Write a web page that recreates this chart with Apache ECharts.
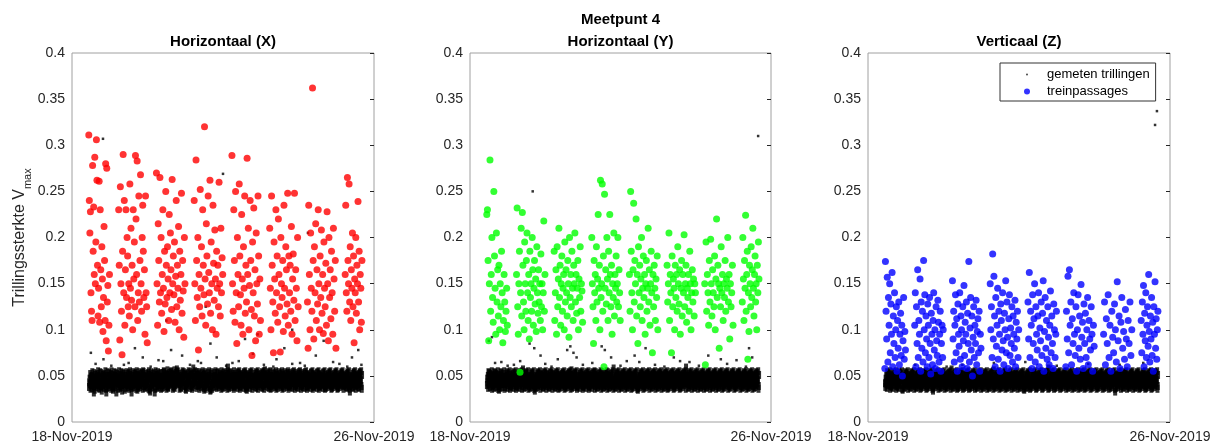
<!DOCTYPE html>
<html>
<head>
<meta charset="utf-8">
<script src="https://cdn.jsdelivr.net/npm/echarts@6/dist/echarts.min.js"></script>
<style>
  html, body { margin: 0; padding: 0; background: #fff; }
  #chart { width: 1223px; height: 446px; }
</style>
</head>
<body>
<div id="chart"></div>
<script>
// tijd in uren vanaf 18-Nov-2019 00:00
const xTickLabels = ['18-Nov-2019', '26-Nov-2019'];
const yTicks = [0, 0.05, 0.1, 0.15, 0.2, 0.25, 0.3, 0.35, 0.4];
const dayWindows = [[10.5, 24], [29.5, 48], [53.5, 72], [77.5, 96], [101.5, 120], [125.5, 144], [149.5, 168], [173.5, 184.5]];
const noiseSpan = [10.8, 184.4];

// gemeten trillingen (ruis), 1 teken per meting: a=0.031 ... z=0.056, A=0.057 ...
const noiseX =
  "hmqkvfjsotgxlnribwpeukmqhsjvonytgkfrlxipwhdmsqujgnvtkoyrfbl" +
  "qgxmtjkwhsonrvfylpiuegkqmxhtjwsbnovrlfkpyiumgqhtxjdsnwrvolke" +
  "tkgpxmqjvhsnwfroyulikbgtqmxjhpvsnkwrfoyleuitgmqxkjhvpsnwrofy" +
  "lxiqtgmjkvphsnrwofyuelcqgtxmkjvhpsnwrbofylquitgmxkjvhspnwrfo" +
  "nsgwjqhyxlkrmtpvfiuzohgnjwsqkmxyrptlvfuihozgnjwsqkAmxyrplvtf" +
  "kolhgrnqwymstxjipvfuekhlmwqosyrnjgxptiuvfkhlBmwqosyrnjgxptiu" +
  "qvjxfmsklhnpwrtyoigueqvjxfmsklhnpwrtyoigdeqvjxfmsklhnpwrtyoi" +
  "rgmwnkxhqpsjvlotfyiurgmwnkxhqpsjvlotfyCiurgmwnkxhqpsjvlotfyi" +
  "hnvqsmtkrgxjwplyofiuhnvqsmtkrgxjwplyofiuehnvqsmtkrgxjwplyofi" +
  "mslkqvrnhtxgjwpoyfiumslkqvrnhtxgjwpoyfiuzmslkqvrnhtxgjwpoyfi" +
  "ptgqnmxkvsjrhlwoyfiuptgqnmxkvsjrhlwoyfiuptgqnmxkvsjrhlwoyfiu" +
  "kwrjhnsmqgvxtplyoifukwrjhnsmqgvxtplyoifukwrjhnsmqgvxtplyoifu" +
  "vhmtsqjknrgwxlpoyfiuvhmtsqjknrgwxlpoyfiuvhmtsqjknrgwxlpoyfiu" +
  "gsnqkmhvtrjxwlpyoifugsnqkmhvtrjxwlpyoifugsnqkmhvtrjxwlpyoifu" +
  "qtjmnkshvgrxwlpoyifcqtjmnkshvgrxwlpoyifuqtjmnkshvgrxwlpoyifu";
const noiseY =
  "jqmtgxkwnshvrlpoyfiujqmtgxkwnshvrlpoyfiuejqmtgxkwnshvrlpoyf" +
  "kqhnsvmtxgjrwlpoyfiukqhnsvmtxgjrwlpoyfiukqhnsvmtxgjrwlpoyfiu" +
  "Amtqgnskhvxjwrlpoyfimtqgnskhvxjwrlpoyfidmtqgnskhvxjwrlpoyfiu" +
  "nvkqsmhgtxrjwlpyofiunvkqsmhgtxrjwlpyofiunvkqsmhgtxrjwlpyofiu" +
  "sgmqtknhvjxrwlopyfiusgmqtknhvjxrwlopyfiuzsgmqtknhvjxrwlopyfi" +
  "hqtmknsgvxjrlwpoyfiuhqtmknsgvxjrlwpoyfiuhqtmknsgvxjrlwpoyfiu" +
  "xmqkgtnshvjrwlpoyifuxmqkgtnshvjrwlpoyifuxmqkgtnshvjrwlpoyifB" +
  "tkqmgnhsvxjrwlopyfiutkqmgnhsvxjrwlopyfiutkqmgnhsvxjrwlopyfiu" +
  "mgqtknshvxjrwlpoyfiemgqtknshvxjrwlpoyfiumgqtknshvxjrwlpoyfiu" +
  "qkmtgnshxvjrwlpoyfiuqkmtgnshxvjrwlpoyfiuqkmtgnshxvjrwlpoyfiu" +
  "gtqmknshvxrjwlpoyfiugtqmknshvxrjwlpoyfiugtqmknshvxrjwlpoyfCu" +
  "nqkmtgshvxjrlwpoyfiunqkmtgshvxjrlwpoyfiunqkmtgshvxjrlwpoyfiu" +
  "kmtqgnshvjxrwlpoyfiukmtqgnshvjxrwlpoyfiukmtqgnshvjxrwlpoyfiu" +
  "tqgmkhnsvxjrwlpyofiutqgmkhnsvxjrwlpyofiutqgmkhnsvxjrwlpyofiu" +
  "mqtgknhsvxjrwlpoyfiumqtgknhsvxjrwlpoyfiumqtgknhsvxjrwlpoyfiu";
const noiseZ =
  "lhqmtkgxnsjwvrpoyfiulhqmtkgxnsjwvrpoyfiulhqmtkgxnsjwvrpoyfe" +
  "rkmqgthnxsvjwlopyfiurkmqgthnxsvjwlopyfiurkmqgthnxsvjwlopyfiu" +
  "gnqktmshxjvrwlpoyfiugnqktmshxjvrwlpoyfidgnqktmshxjvrwlpoyfiu" +
  "tmkgqnhsvxjrwlpoyfiutmkgqnhsvxjrwlpoyfiuAtmkgqnhsvxjrwlpoyfi" +
  "qgnmktshvjxrwlopyfiuqgnmktshvjxrwlopyfiuqgnmktshvjxrwlopyfiu" +
  "kqtgmnhsxvjrwlpoyfiukqtgmnhsxvjrwlpoyfiukqtgmnhsxvjrwlpoyfiz" +
  "mtgqknshvjxrlwpoyfiumtgqknshvjxrlwpoyfiumtgqknshvjxrlwpoyfiu" +
  "nkqmgtshvxjrwlpoyfiunkqmgtshvxjrwlpoyfieunkqmgtshvxjrwlpoyfi" +
  "gqmtknhsvxjrwlpoyifugqmtknhsvxjrwlpoyifugqmtknhsvxjrwlpoyifB" +
  "tgkqmnshvjxrwlpoyfiutgkqmnshvjxrwlpoyfiutgkqmnshvjxrwlpoyfiu" +
  "qmkgtnshxvjrwlpoyfiuqmkgtnshxvjrwlpoyfiuqmkgtnshxvjrwlpoyfiu" +
  "kgtqmnhsvxjrlwpoyfiukgtqmnhsvxjrlwpoyfiukgtqmnhsvxjrlwpoyfiu" +
  "mqgktnshvjxrwlpoyfiumqgktnshvjxrwlpoyfcumqgktnshvjxrwlpoyfiu" +
  "tqkmgnhsvxjrwlpyofiutqkmgnhsvxjrwlpyofiutqkmgnhsvxjrwlpyofiu" +
  "gmqtknshvxjrwlpoyfiugmqtknshvxjrwlpoyfiugmqtknshvxjrwlpoyfiu";

// losse gemeten trillingen boven de ruisband: [uur, waarde x 1000]
const extraX = [[12, 75], [20, 68], [33, 62], [40, 80], [45, 70], [58, 66], [63, 78], [70, 72], [82, 64], [88, 85], [92, 70], [106, 66], [110, 90], [115, 74], [130, 68], [135, 80], [140, 63], [155, 72], [160, 88], [166, 65], [178, 70], [182, 78], [19.7, 307], [96, 269], [140, 100], [60, 110], [85, 125], [118, 95], [150, 205],
  [15, 63], [25, 61], [36, 64], [50, 60], [55, 67], [75, 62], [80, 66], [98, 61], [102, 64], [122, 62], [128, 60], [145, 64], [148, 61], [170, 63], [175, 60], [184, 62]];
const extraY = [[40, 250], [183.8, 310], [12, 88], [14, 92], [38, 85], [41, 80], [45, 72], [62, 78], [64, 82], [66, 75], [68, 70], [84, 82], [86, 78], [90, 70], [105, 72], [108, 65], [112, 80], [130, 70], [134, 66], [152, 72], [160, 68], [178, 80], [180, 70], [20, 65], [28, 62],
  [16, 64], [24, 61], [32, 66], [48, 63], [52, 60], [56, 68], [72, 62], [78, 64], [96, 61], [100, 66], [118, 62], [124, 60], [140, 65], [146, 61], [164, 63], [170, 67], [176, 60]];
const extraZ = [[182.5, 322], [183.7, 337], [60, 62], [100, 65], [140, 63], [30, 62], [50, 60], [80, 64], [120, 61], [160, 62], [175, 64]];

// treinpassages per dag (waarde x 1000)
const trainX = [
  [311,240,205,228,140,120,110,278,185,233,160,287,150,195,306,262,170,115,145,261,108,230,165,125,190,155,98,135,212,175,110,280,88,275,130,148,77,105,160],
  [230,170,89,255,150,120,73,185,290,140,240,105,165,230,135,200,180,125,150,115,258,145,210,132,170,100,230,155,195,125,289,220,160,283,110,140,245,130,175,268,150,120,200,235,185,135,165,95,245,140,125,86],
  [270,150,105,215,175,130,265,140,200,118,160,230,145,98,185,128,250,170,135,190,155,110,225,140,205,165,122,263,150,180,138,195,108,158,240,125,170,145,212,100,185,132,160,248,118,175,142,92,200,150],
  [240,150,110,284,175,135,200,78,160,125,252,145,190,115,230,170,138,320,155,105,215,180,128,245,162,140,262,118,195,150,100,235,172,132,208,155,95,185,145,170,125,260,150,115,210,140,178,160],
  [289,150,120,230,175,108,250,140,85,200,160,125,258,180,138,105,225,155,95,190,145,245,118,170,130,286,160,210,100,148,240,175,122,72,195,140,232,115,165,88,205,150,128,245,180,95,155,110],
  [210,145,100,245,170,130,75,195,155,118,230,140,180,108,220,160,125,76,200,150,135,175,98,235,145,115,190,165,128,248,105,180,140,170,120,212,95,155,182,132,248,110,165,145,88,200,125],
  [130,80,235,160,100,205,145,120,362,175,90,190,140,215,110,165,128,230,150,100,180,135,208,118,160,96,195,145,125,172,105,228,150,88,200,135,165,112,185,140,95,210,155,120,175,80],
  [160,235,140,120,265,175,150,258,130,190,110,165,145,205,125,180,86,155,140,200,118,170,150,239,130,185,100,160,145,108,175]
];
const trainY = [
  [225,230,175,88,150,284,120,160,200,135,108,250,180,145,95,205,130,165,115,170,100,150,125,185,140,86,110,160,130,98,120,145,105],
  [160,232,125,95,150,185,54,140,210,115,227,170,130,100,195,150,120,175,205,140,110,160,90,185,135,150,120,200,165,105,145,175,128,155,98,190,140,118,165,130,150,110,182,125,150,100,140,218,120,160],
  [185,110,140,165,95,190,125,155,210,135,170,105,150,180,120,145,160,100,195,130,165,140,115,175,150,92,200,135,160,125,185,145,110,170,150,205,130,160,118,145,175,100,155,135,190,120,150,142,108],
  [200,150,125,85,175,140,160,110,190,130,155,225,145,170,100,262,135,150,258,120,180,60,247,145,165,128,200,155,110,185,140,225,160,125,170,95,150,135,205,115,160,145,180,130,150,200,125,165,140,110],
  [160,120,250,185,140,100,165,237,130,175,150,220,115,160,85,190,140,170,125,155,200,110,145,180,135,160,95,150,175,120,145,210,130,165,105,150,185,140,75,160,125,170,145,110,155,135,180,100],
  [170,130,150,205,110,160,140,75,180,125,155,145,100,170,135,160,120,190,150,128,165,95,145,175,115,160,140,203,125,150,170,108,145,135,160,120,185,150,100,140,165,130,155,115,150,140],
  [150,62,195,120,160,140,105,175,130,198,150,115,165,140,125,180,100,155,220,135,170,150,80,145,125,190,140,160,110,150,135,175,120,155,145,200,130,160,90,150,125,140,170,105],
  [130,200,155,110,175,145,224,120,160,185,68,140,98,170,150,125,190,135,165,210,145,115,160,180,130,150,100,170,140,195,155]
];
const trainZ = [
  [58,174,120,90,157,65,135,105,150,75,128,95,162,60,115,85,140,70,100,125,55,110,80,130,62,95,118,72,105,50,88,135,68,98,78],
  [105,140,60,125,85,165,70,110,95,155,55,130,80,120,65,175,100,138,75,115,90,60,128,105,70,135,85,52,118,95,62,110,140,78,100,58,125,88,72,132,108,65,95,120,55,85,105,70,100],
  [153,90,120,65,105,138,75,112,55,128,95,82,140,68,115,100,60,125,88,148,72,108,95,130,58,118,85,174,65,102,135,78,115,50,92,125,70,105,85,132,62,98,112,75,120,55,95,80],
  [150,100,125,70,182,90,158,115,60,135,82,105,145,68,120,95,55,128,110,78,140,88,62,118,100,153,75,130,92,58,112,138,72,102,85,125,65,115,95,80,132,60,108,90,120,70,100],
  [130,90,162,70,120,105,58,138,85,112,150,65,125,95,78,115,140,60,102,88,130,72,118,153,55,98,135,80,110,68,125,92,62,105,142,75,115,85,58,128,100,70,95,120],
  [60,120,90,158,75,165,105,130,62,112,85,140,95,72,125,55,100,138,80,115,68,149,92,108,58,128,85,118,70,100,135,62,110,90,78,125,95,55,105,82],
  [95,130,62,112,85,138,70,105,55,120,92,75,128,100,65,152,88,115,58,108,135,80,98,68,122,90,60,110,85,130,72,100],
  [110,75,130,95,148,60,118,88,140,70,105,125,82,160,98,65,115,90,135,72,108,55,125,95,152,80,112,68,100,120]
];

const panelTitles = ['Horizontaal (X)', 'Meetpunt 4\nHorizontaal (Y)', 'Verticaal (Z)'];
const trainColors = ['#ff0000', '#00ff00', '#0000ff'];

function noisePoints(str) {
  const n = str.length, pts = [];
  for (let i = 0; i < n; i++) {
    const c = str.charCodeAt(i);
    const v = c >= 97 ? 31 + (c - 97) : 57 + (c - 65);
    pts.push([noiseSpan[0] + i * (noiseSpan[1] - noiseSpan[0]) / (n - 1), v / 1000]);
  }
  return pts;
}

function trainPoints(days) {
  const pts = [];
  days.forEach((vals, d) => {
    const a = dayWindows[d][0], b = dayWindows[d][1];
    vals.forEach((v, j) => pts.push([a + (j + 0.5) * (b - a) / vals.length, v / 1000]));
  });
  return pts;
}

const font = 'Liberation Sans, Arial, Helvetica, sans-serif';
const gridLefts = [72, 470, 868];
const gridWidths = [302, 301, 302];
const noiseData = [noisePoints(noiseX), noisePoints(noiseY), noisePoints(noiseZ)];
const extraData = [extraX, extraY, extraZ].map(arr => arr.map(p => [p[0], p[1] / 1000]));
const trainData = [trainPoints(trainX), trainPoints(trainY), trainPoints(trainZ)];

const chart = echarts.init(document.getElementById('chart'));
const option = {
  animation: false,
  backgroundColor: '#fff',
  textStyle: { fontFamily: font },
  title: panelTitles.map((t, i) => ({
    text: t,
    left: gridLefts[i] + gridWidths[i] / 2,
    top: i === 1 ? 9 : 31,
    textAlign: 'center',
    padding: 0,
    textStyle: { fontSize: 15, fontWeight: 'bold', color: '#000', lineHeight: 22, fontFamily: font }
  })),
  legend: {
    orient: 'vertical',
    left: 1000,
    top: 63,
    padding: [5, 6, 3, 24],
    itemGap: 4,
    itemWidth: 30,
    itemHeight: 6,
    itemTextGap: 22,
    borderColor: '#333',
    borderWidth: 1,
    backgroundColor: '#fff',
    textStyle: { fontSize: 13, color: '#000', fontFamily: font },
    data: [
      { name: 'gemeten trillingen', icon: 'path://M0,0M10,10M3.5,5a1.5,1.5 0 1,0 3,0a1.5,1.5 0 1,0 -3,0' },
      { name: 'treinpassages', icon: 'circle' }
    ]
  },
  grid: gridLefts.map((l, i) => ({
    left: l, width: gridWidths[i], top: 53, height: 369,
    show: true, borderColor: '#a0a0a0', borderWidth: 1, backgroundColor: '#fff'
  })),
  xAxis: gridLefts.map((l, i) => ({
    type: 'value', gridIndex: i, min: 0, max: 192, interval: 192,
    axisLine: { show: false }, axisTick: { show: false }, splitLine: { show: false },
    axisLabel: {
      showMinLabel: true, showMaxLabel: true, hideOverlap: false,
      fontSize: 14, color: '#262626', margin: 8, fontFamily: font,
      formatter: v => (v === 0 ? xTickLabels[0] : xTickLabels[1])
    }
  })),
  yAxis: [0, 1, 2].map(i => ({
    type: 'value', gridIndex: i, min: 0, max: 0.4, interval: 0.05,
    axisLine: { show: false }, axisTick: { show: false }, splitLine: { show: false },
    axisLabel: {
      fontSize: 14, color: '#262626', margin: 7, fontFamily: font,
      formatter: v => String(yTicks[Math.round(v / 0.05)])
    },
    name: i === 0 ? '{a|Trillingssterkte V}{b|max}' : '',
    nameLocation: 'middle',
    nameGap: 38,
    nameTextStyle: {
      rich: {
        a: { fontSize: 16, color: '#262626', lineHeight: 22, verticalAlign: 'top', fontFamily: font },
        b: { fontSize: 11, color: '#262626', lineHeight: 9, verticalAlign: 'bottom', fontFamily: font }
      }
    }
  })).concat([0, 1, 2].map(i => ({
    type: 'value', gridIndex: i, position: 'right', min: 0, max: 0.4, interval: 0.05,
    axisLine: { show: false }, splitLine: { show: false }, axisLabel: { show: false },
    axisTick: { show: true, inside: true, length: 4, lineStyle: { color: '#262626', width: 1 } }
  }))),
  series: [0, 1, 2].map(i => ({
    name: 'gemeten trillingen',
    type: 'scatter',
    xAxisIndex: i, yAxisIndex: i,
    symbol: 'rect',
    symbolSize: [4, 8],
    itemStyle: { color: '#000' },
    silent: true,
    data: noiseData[i]
  })).concat([0, 1, 2].map(i => ({
    name: 'gemeten trillingen',
    type: 'scatter',
    xAxisIndex: i, yAxisIndex: i,
    symbol: 'rect',
    symbolSize: 2.5,
    itemStyle: { color: '#000' },
    silent: true,
    data: extraData[i]
  }))).concat([0, 1, 2].map(i => ({
    name: i === 2 ? 'treinpassages' : 'treinpassages ' + 'XY'[i],
    type: 'scatter',
    xAxisIndex: i, yAxisIndex: i,
    symbol: 'circle',
    symbolSize: 7,
    itemStyle: { color: trainColors[i] },
    silent: true,
    data: trainData[i]
  })))
};
chart.setOption(option);
</script>
</body>
</html>
